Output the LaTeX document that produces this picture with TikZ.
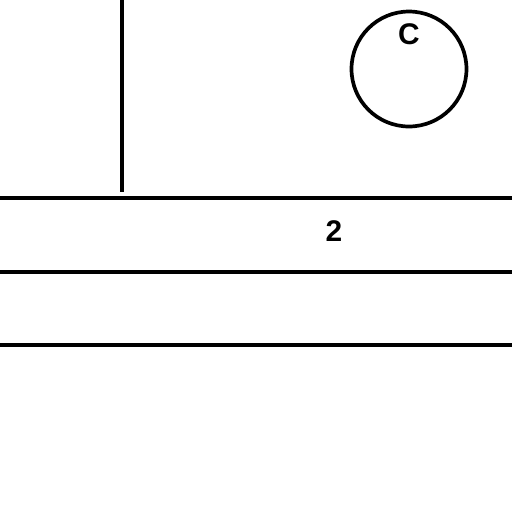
\documentclass[tikz,border=0pt]{standalone}
\usepackage{fontspec}
\setmainfont{Liberation Sans}
\usetikzlibrary{positioning}

\begin{document}
\begin{tikzpicture}[x=0.02cm,y=-0.02cm,line width=2.1pt,
lbl/.style={font=\fontsize{17}{17}\selectfont\bfseries,inner sep=0pt},
ring/.style={draw,circle,minimum size=2.3cm,inner sep=0pt}]
\useasboundingbox (0,0) rectangle (512,512);
% upper part: rod and wheel
\coordinate (rodtop) at (122,0);
\coordinate (rodend) at (122,192);
\draw (rodtop)--(rodend);
\node[ring] (wheel) at (409,69) {};
\node[lbl] (wlabel) at (409,34) {C};
% layers
\draw (0,198)--(512,198);
\draw (0,272)--(512,272);
\draw (0,345)--(512,345);
\node[lbl] (layer) at (334,231) {2};
\end{tikzpicture}
\end{document}
